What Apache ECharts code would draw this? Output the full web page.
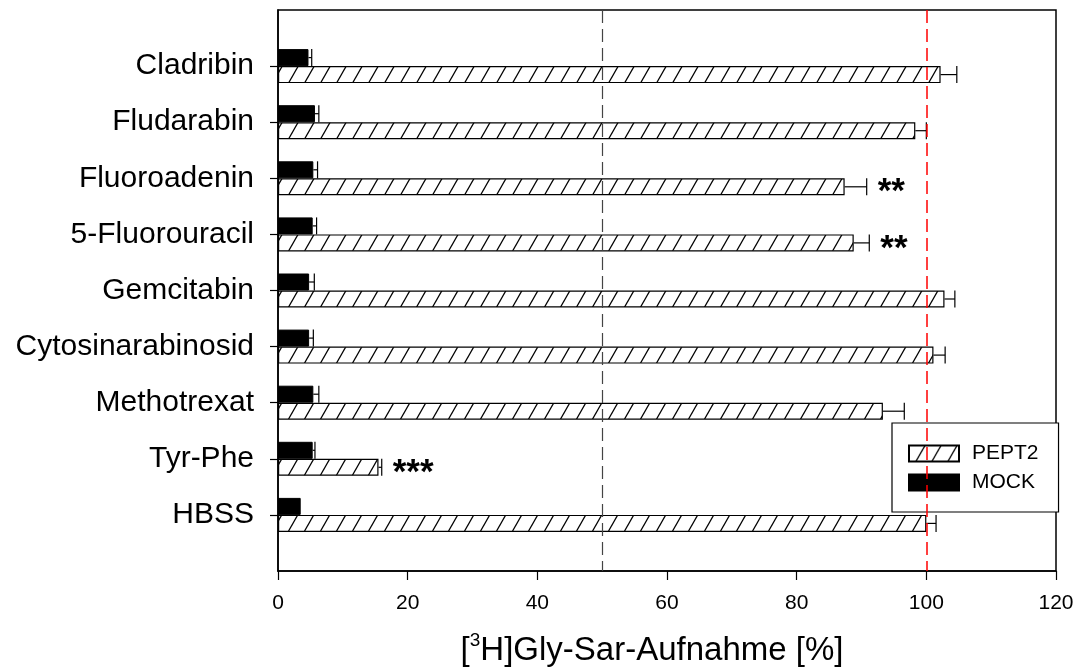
<!DOCTYPE html>
<html>
<head>
<meta charset="utf-8">
<title>Gly-Sar-Aufnahme</title>
<script src="https://cdn.jsdelivr.net/npm/echarts@6/dist/echarts.min.js"></script>
<style>
  html, body { margin: 0; padding: 0; background: #fff; }
  #chart { width: 1083px; height: 668px; }
</style>
</head>
<body>
<div id="chart"></div>
<script>
// Substances, listed top to bottom
const categories = ['Cladribin', 'Fludarabin', 'Fluoroadenin', '5-Fluorouracil', 'Gemcitabin',
  'Cytosinarabinosid', 'Methotrexat', 'Tyr-Phe', 'HBSS'];
// Uptake in PEPT2 cells [%] and its error
const pept2 = [102.2, 98.3, 87.4, 88.8, 102.8, 101.1, 93.3, 15.5, 100.0];
const pept2Err = [2.5, 1.7, 3.4, 2.4, 1.6, 1.8, 3.3, 0.5, 1.5];
// Uptake in MOCK cells [%] and its error
const mock = [4.7, 5.7, 5.45, 5.35, 4.8, 4.8, 5.45, 5.35, 3.5];
const mockErr = [0.5, 0.6, 0.65, 0.6, 0.8, 0.65, 0.85, 0.35, 0];
// Significance marks on the PEPT2 bars
const significance = ['', '', '**', '**', '', '', '', '***', ''];
// Axis settings
const xTicks = { min: 0, max: 120, interval: 20 };
const refLines = [50, 100];

const FONT = "'Liberation Sans', Arial, sans-serif";
const BAR_H = 17;

// Empty slots above and below so the categories sit on ticks 1..9 of a 0..10 axis
const yCats = [''].concat(categories, ['']);
const pad = arr => [null].concat(arr, [null]);

// Diagonal hatch used for the PEPT2 bars
function hatch() {
  const W = 16, H = 28;
  const c = document.createElement('canvas');
  c.width = W; c.height = H;
  const g = c.getContext('2d');
  g.fillStyle = '#fff';
  g.fillRect(0, 0, W, H);
  g.strokeStyle = '#000';
  g.lineWidth = 1.3;
  [-W, 0, W].forEach(dx => {
    g.beginPath();
    g.moveTo(dx, H);
    g.lineTo(dx + W, 0);
    g.stroke();
  });
  return c;
}

function errorData(values, errs, marks) {
  return values.map((v, i) => [v, i + 1, errs[i], marks ? marks[i] : '']);
}

// One-sided error bars with a cap the height of the bar; side = -1 upper bar, +1 lower bar
function errorRenderer(side) {
  return function (params, api) {
    const v = api.value(0), idx = api.value(1), e = api.value(2);
    const mark = api.value(3);
    const p0 = api.coord([v, idx]);
    const p1 = api.coord([v + e, idx]);
    const cy = p0[1] + side * BAR_H / 2;
    const lineStyle = { stroke: '#000', lineWidth: 1.2 };
    const children = [];
    if (e > 0) {
      children.push({ type: 'line', shape: { x1: p0[0], y1: cy, x2: p1[0], y2: cy }, style: lineStyle });
      children.push({ type: 'line', shape: { x1: p1[0], y1: cy - BAR_H / 2, x2: p1[0], y2: cy + BAR_H / 2 }, style: lineStyle });
    }
    if (mark && mark !== '-') {
      children.push({
        type: 'text',
        style: {
          text: mark, x: p1[0] + 11, y: cy + 6,
          fill: '#000', font: 'bold 35px ' + FONT,
          textAlign: 'left', textVerticalAlign: 'middle'
        }
      });
    }
    return { type: 'group', children: children };
  };
}

const chart = echarts.init(document.getElementById('chart'), null, { renderer: 'canvas' });

chart.setOption({
  animation: false,
  backgroundColor: '#fff',
  grid: {
    left: 278, right: 27, top: 10, bottom: 97,
    outerBoundsMode: 'none', containLabel: false,
    show: true, borderColor: '#000', borderWidth: 1.5, backgroundColor: 'transparent'
  },
  legend: {
    data: ['PEPT2', 'MOCK'],
    orient: 'vertical',
    left: 892, top: 423,
    itemWidth: 50, itemHeight: 16, itemGap: 8,
    padding: [20, 20, 19, 16],
    borderColor: '#000', borderWidth: 1.2,
    backgroundColor: '#fff',
    selectedMode: false,
    icon: 'rect',
    textStyle: { fontFamily: FONT, fontSize: 21, lineHeight: 16, color: '#000', padding: [0, 0, 0, 8] }
  },
  xAxis: {
    type: 'value',
    min: xTicks.min, max: xTicks.max, interval: xTicks.interval,
    axisLine: { show: true, lineStyle: { color: '#000', width: 1.5 } },
    axisTick: { show: true, inside: false, length: 9, lineStyle: { color: '#000', width: 1.2 } },
    axisLabel: { color: '#000', fontFamily: FONT, fontSize: 21, margin: 22 },
    splitLine: { show: false },
    name: '[{sup|3}H]Gly-Sar-Aufnahme [%]',
    nameLocation: 'middle',
    nameGap: 60,
    nameTextStyle: {
      color: '#000', fontFamily: FONT, fontSize: 33,
      padding: [0, 30, 0, 0],
      rich: { sup: { fontSize: 19, fontFamily: FONT, color: '#000', padding: [0, 0, 20, 0] } }
    }
  },
  yAxis: {
    type: 'category',
    data: yCats,
    inverse: true,
    boundaryGap: false,
    axisLine: { show: true, lineStyle: { color: '#000', width: 1.5 } },
    axisTick: {
      show: true, inside: false, length: 8,
      interval: (i, v) => v !== '',
      lineStyle: { color: '#000', width: 1.2 }
    },
    axisLabel: { color: '#000', fontFamily: FONT, fontSize: 30, margin: 24, interval: 0 },
    splitLine: { show: false }
  },
  series: [
    {
      name: 'MOCK', type: 'bar', data: pad(mock),
      barWidth: BAR_H, barGap: '0%',
      itemStyle: { color: '#000', borderColor: '#000', borderWidth: 1 },
      markLine: {
        silent: true, symbol: 'none', label: { show: false },
        data: [
          { xAxis: refLines[0], lineStyle: { color: '#444', type: [13, 6], width: 1.2 } },
          { xAxis: refLines[1], lineStyle: { color: '#ff0000', type: [13, 6], width: 1.5 } }
        ]
      }
    },
    {
      name: 'PEPT2', type: 'bar', data: pad(pept2),
      barWidth: BAR_H, barGap: '0%',
      itemStyle: { color: { image: hatch(), repeat: 'repeat' }, borderColor: '#000', borderWidth: 1.2 }
    },
    {
      name: 'MOCK-err', type: 'custom', renderItem: errorRenderer(-1),
      data: errorData(mock, mockErr), z: 3, silent: true
    },
    {
      name: 'PEPT2-err', type: 'custom', renderItem: errorRenderer(1),
      data: errorData(pept2, pept2Err, significance), z: 3, silent: true
    }
  ]
});
</script>
</body>
</html>
